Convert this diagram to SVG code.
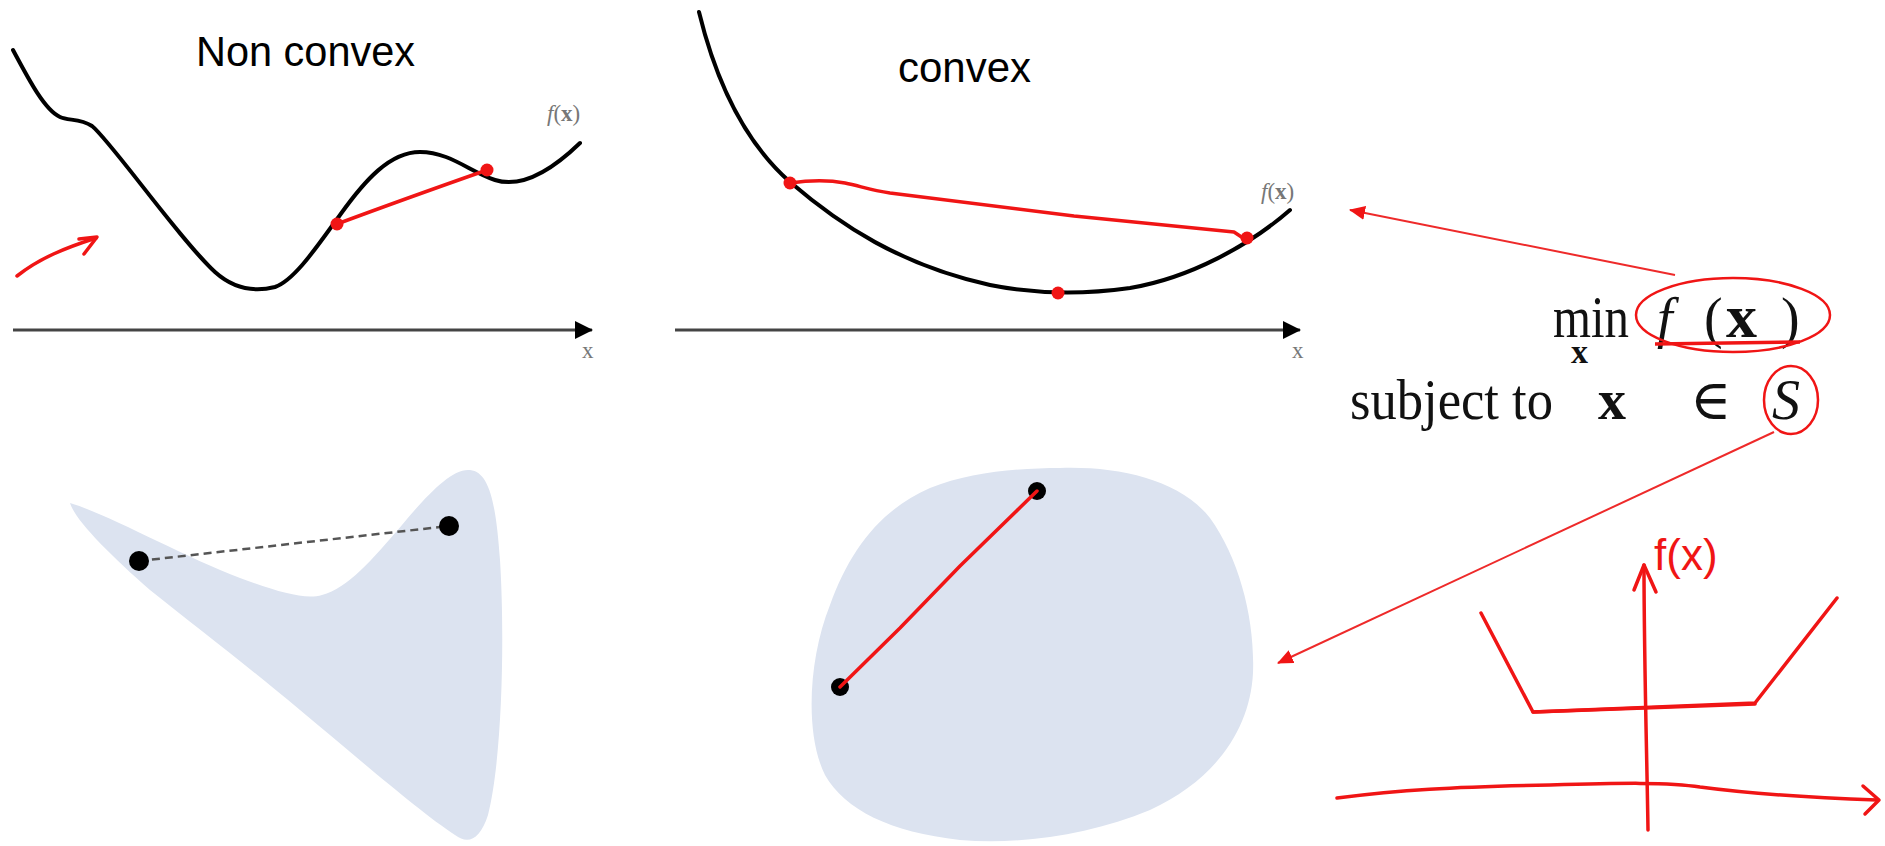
<svg xmlns="http://www.w3.org/2000/svg" width="1885" height="846" viewBox="0 0 1885 846">
<defs>
<marker id="axhead" viewBox="0 0 18 18" refX="17" refY="9" markerWidth="18" markerHeight="18" orient="auto" markerUnits="userSpaceOnUse"><path d="M0,0 L18,9 L0,18 Z" fill="#000"/></marker>
<marker id="redhead" viewBox="0 0 16 14" refX="15" refY="7" markerWidth="16" markerHeight="14" orient="auto" markerUnits="userSpaceOnUse"><path d="M0,0 L16,7 L0,14 Z" fill="#f01515"/></marker>
</defs>
<style>
.curve{fill:none;stroke:#000;stroke-width:4;stroke-linecap:round;stroke-linejoin:round}
.axis{fill:none;stroke:#444;stroke-width:3}
.red{fill:none;stroke:#f01515;stroke-width:3.5;stroke-linecap:round;stroke-linejoin:round}
.thin{fill:none;stroke:#ee2a2a;stroke-width:2}
.dot{fill:#f01515}
.bdot{fill:#000}
.region{fill:#dce3f0}
.title{font-family:"Liberation Sans",Arial,sans-serif;font-size:43px;fill:#000}
.lbl{font-family:"Liberation Serif","DejaVu Serif",serif;fill:#777;font-size:23px}
.math{font-family:"Liberation Serif","DejaVu Serif",serif;fill:#111;font-size:56px}
.hand{font-family:"Liberation Sans",Arial,sans-serif;fill:#f01515;font-size:44px}
</style>

<g id="nonconvex-plot">
<text class="title" x="196" y="66" textLength="219" lengthAdjust="spacingAndGlyphs">Non convex</text>
<path class="curve" d="M13,50 C30,82 45,110 60,117 C68,121 80,118 92,126 C110,140 180,240 215,272 C235,290 255,292 275,287 C295,280 318,245 340,215 C365,180 390,152 420,152 C450,152 470,172 495,180 C520,188 550,172 580,143"/>
<text class="lbl" x="547" y="121"><tspan font-style="italic">f</tspan>(<tspan font-weight="bold">x</tspan>)</text>
<text class="lbl" x="582" y="358">x</text>
</g>

<g id="nonconvex-chord">
<path class="red" d="M337,224 C380,208 430,190 487,170"/>
<circle class="dot" cx="337" cy="224" r="6.5"/>
<circle class="dot" cx="487" cy="170" r="6.5"/>
</g>

<g id="convex-plot">
<text class="title" x="898" y="82" textLength="133" lengthAdjust="spacingAndGlyphs">convex</text>
<path class="curve" d="M699,12 C718,90 748,145 790,182 C840,225 900,265 990,285 C1030,293 1080,295 1130,288 C1190,278 1250,245 1290,210"/>
<text class="lbl" x="1261" y="199"><tspan font-style="italic">f</tspan>(<tspan font-weight="bold">x</tspan>)</text>
<text class="lbl" x="1292" y="358">x</text>
</g>

<g id="convex-chord">
<path class="red" d="M790,183 C810,180 830,180 845,183 C860,186 870,190 890,193 L1074,216 L1234,232 L1246,240"/>
<circle class="dot" cx="790" cy="183" r="6.5"/>
<circle class="dot" cx="1247" cy="238" r="6.5"/>
<circle class="dot" cx="1058" cy="293" r="6.5"/>
</g>

<g id="nonconvex-set">
<path class="region" d="M70,503 C110,515 180,555 240,578 C278,592 305,600 322,595 C348,588 372,560 402,525 C427,495 452,468 470,470 C490,472 496,505 500,560 C505,640 502,760 488,815 C480,840 468,845 455,835 C420,812 360,760 300,710 C240,660 200,630 150,590 C110,555 75,520 70,503 Z"/>
<line x1="139" y1="561" x2="449" y2="526" stroke="#555" stroke-width="2.5" stroke-dasharray="8 5"/>
<circle class="bdot" cx="139" cy="561" r="10"/>
<circle class="bdot" cx="449" cy="526" r="10"/>
</g>

<g id="convex-set">
<path class="region" d="M1060,468 C1120,466 1180,480 1210,518 C1240,560 1255,620 1253,673 C1250,730 1215,780 1150,810 C1090,835 1020,845 960,840 C890,832 845,810 825,775 C805,735 808,660 830,605 C850,550 880,510 930,488 C970,472 1020,468 1060,468 Z"/>
<circle class="bdot" cx="840" cy="687" r="9"/>
<circle class="bdot" cx="1037" cy="491" r="9"/>
<path class="red" d="M840,687 L900,628 L960,566 L1037,491"/>
</g>

<g id="problem">
<text class="math" x="1553" y="337" style="font-size:60px" textLength="76" lengthAdjust="spacingAndGlyphs">min</text>
<text class="math" x="1571" y="363" style="font-size:34px" font-weight="bold">x</text>
<text class="math" x="1657" y="337" font-style="italic">f</text>
<text class="math" x="1704" y="337">(</text>
<text class="math" x="1726" y="337" style="font-size:62px" font-weight="bold">x</text>
<text class="math" x="1781" y="337">)</text>
<ellipse cx="1733" cy="315" rx="97" ry="37" fill="none" stroke="#f01515" stroke-width="2.5"/>
<path d="M1655,344 L1800,342" stroke="#f01515" stroke-width="3.5" fill="none"/>
<text class="math" x="1350" y="419" textLength="203" lengthAdjust="spacingAndGlyphs">subject to</text>
<text class="math" x="1598" y="419" font-weight="bold">x</text>
<text class="math" x="1690" y="419">∈</text>
<text class="math" x="1772" y="419" font-style="italic">S</text>
<ellipse cx="1791" cy="400" rx="27" ry="34" fill="none" stroke="#f01515" stroke-width="2.5"/>
</g>

<g id="sketch">
<path class="red" d="M1648,830 C1647,760 1644,660 1644,565"/>
<path class="red" d="M1634,590 L1644,565 L1656,592"/>
<text class="hand" x="1654" y="570">f(x)</text>
<path class="red" d="M1481,613 L1533,712 L1755,703 L1837,598"/>
<path class="red" stroke-width="7" d="M1533,712 L1755,704"/>
<path class="red" d="M1337,798 C1400,790 1450,787 1550,785 C1620,783 1670,782 1700,787 C1760,795 1820,798 1877,800"/>
<path class="red" d="M1863,786 L1879,800 L1865,814"/>
</g>

<g id="connectors">
<line class="axis" x1="13" y1="330" x2="592" y2="330" marker-end="url(#axhead)"/>
<line class="axis" x1="675" y1="330" x2="1300" y2="330" marker-end="url(#axhead)"/>
<path class="red" d="M17,276 C40,258 65,248 96,238"/>
<path class="red" d="M79,239 L97,237 L84,254"/>
<line class="thin" x1="1675" y1="275" x2="1350" y2="210" marker-end="url(#redhead)"/>
<line class="thin" x1="1774" y1="432" x2="1278" y2="663" marker-end="url(#redhead)"/>
</g>
</svg>
